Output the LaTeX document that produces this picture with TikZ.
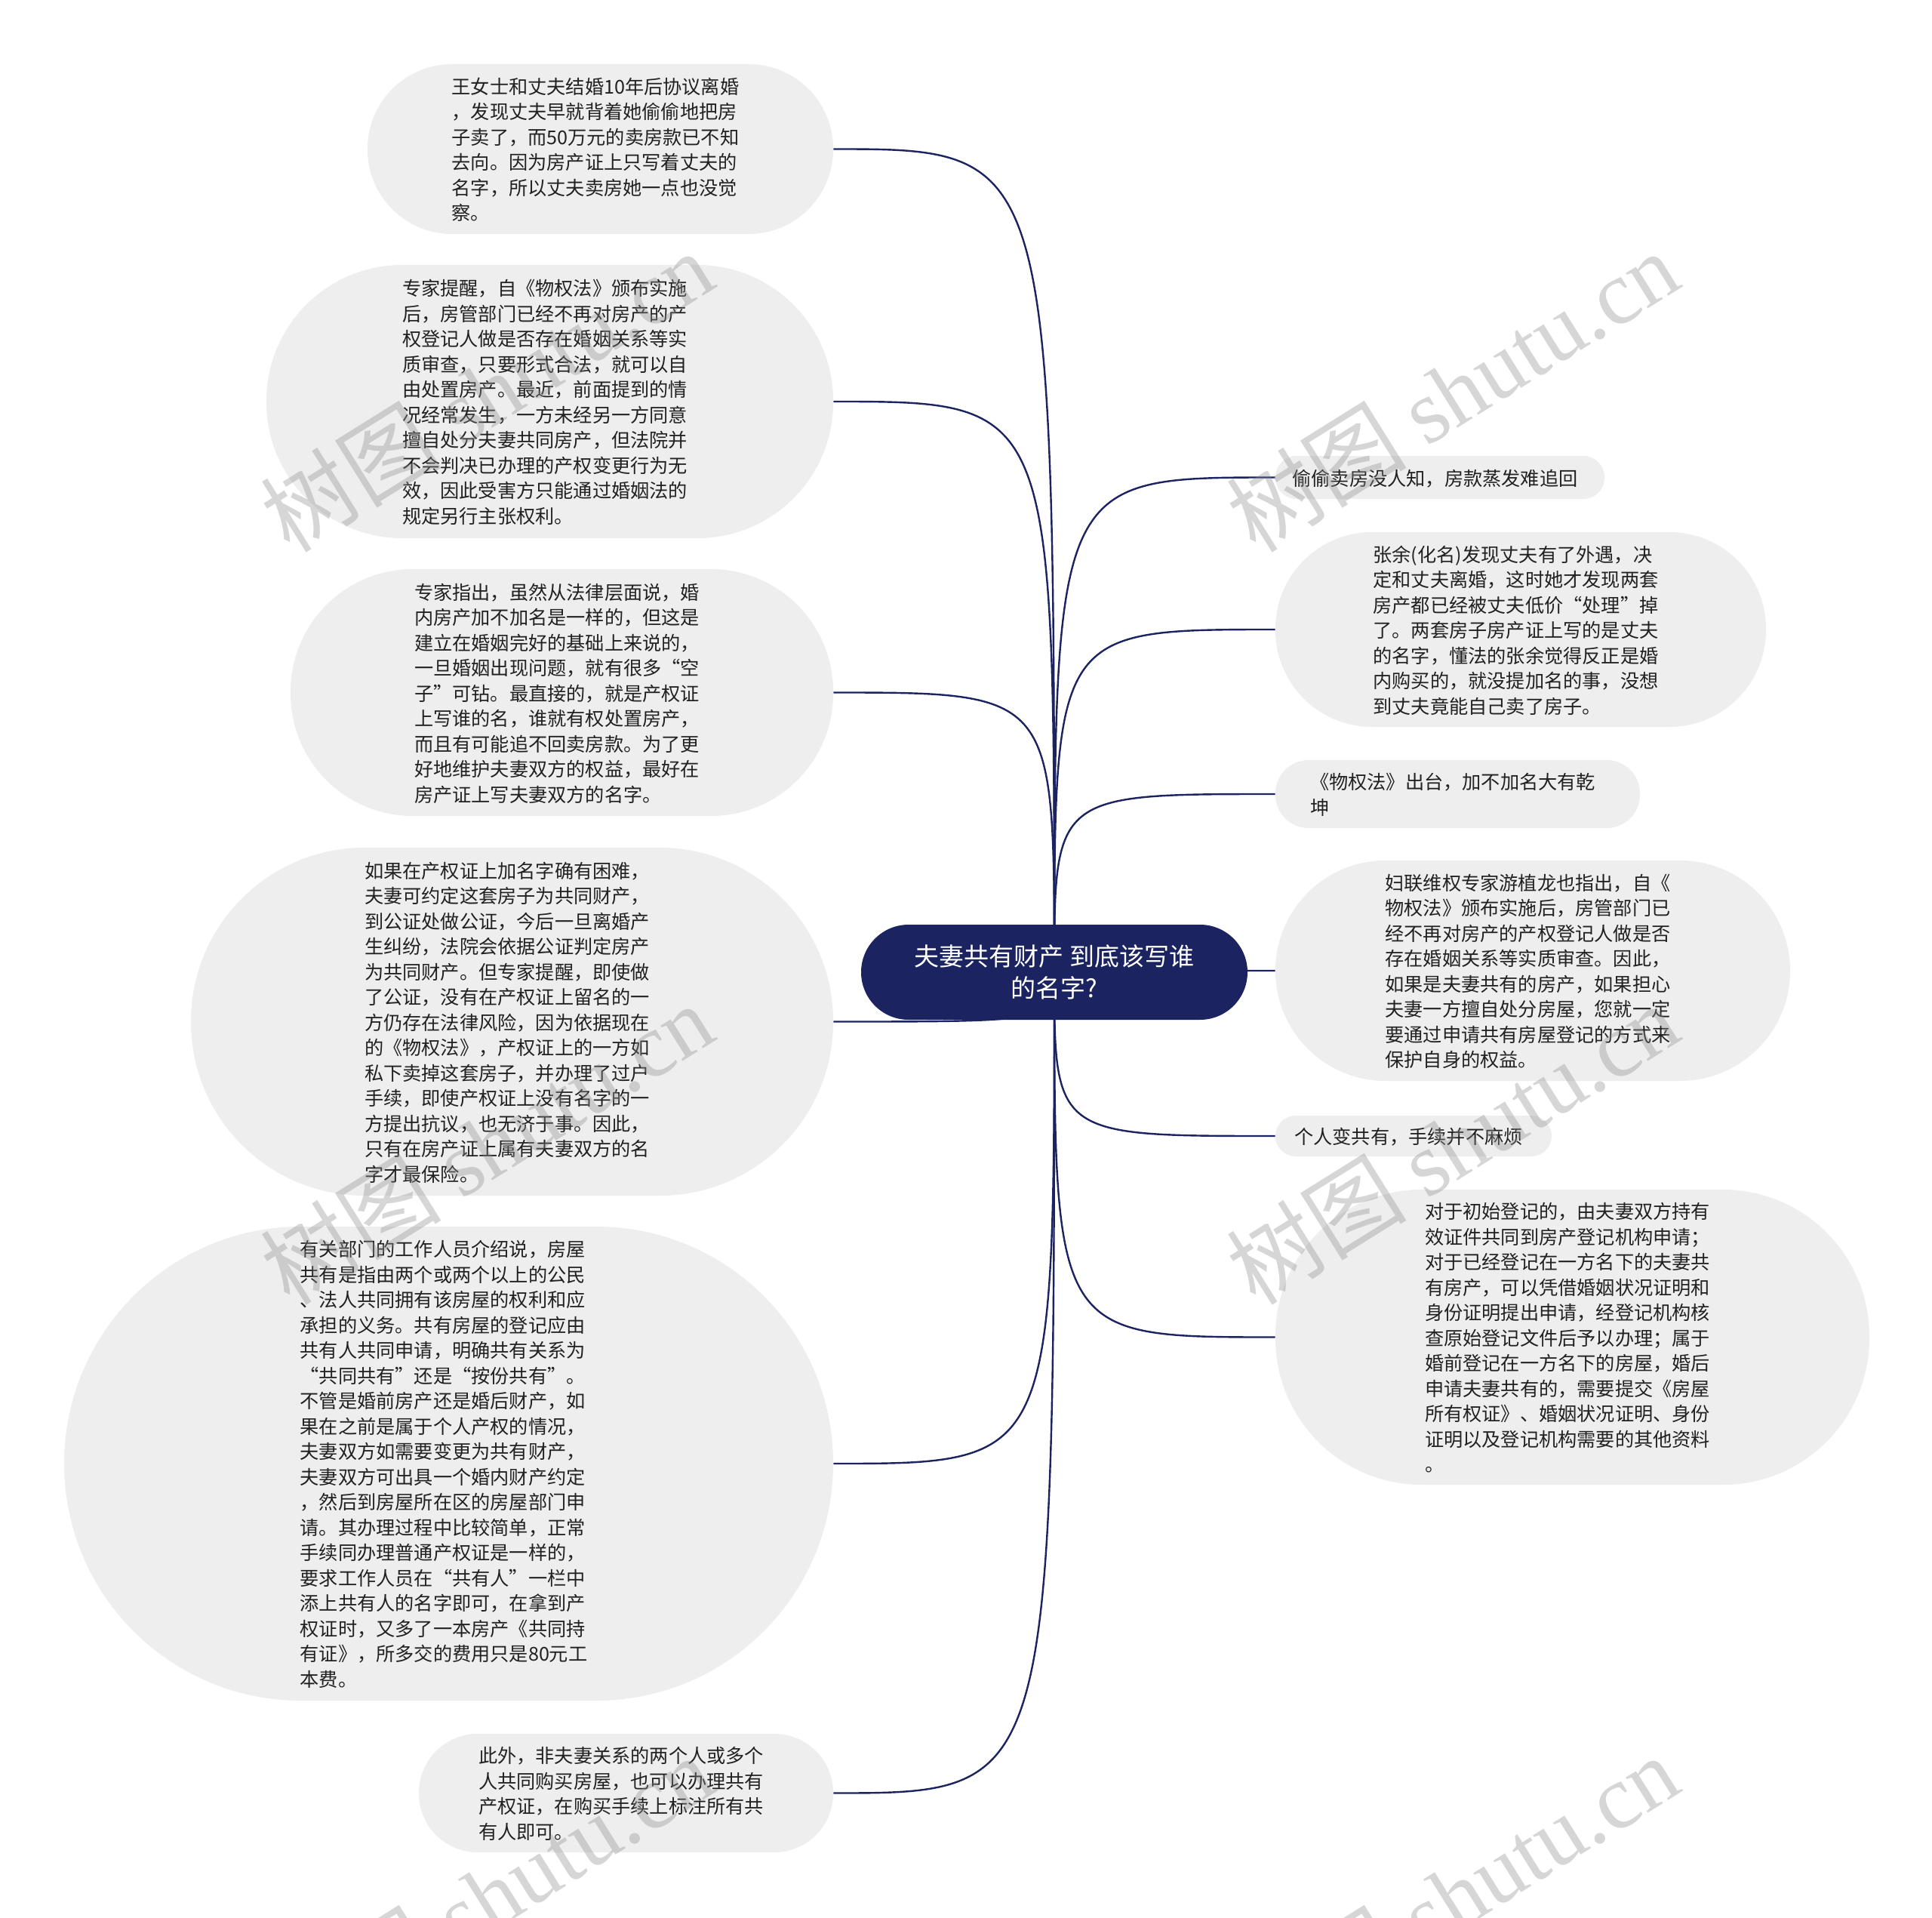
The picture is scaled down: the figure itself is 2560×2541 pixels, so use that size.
\documentclass[tikz,border=0pt]{standalone}
\usepackage{fontspec}
\setmainfont{Noto Sans CJK SC}
\newfontfamily\wmserif{Liberation Serif}
\usetikzlibrary{backgrounds}
\definecolor{navy}{RGB}{27,35,96}
\definecolor{bubblegray}{RGB}{238,238,238}
\definecolor{txt}{RGB}{33,33,33}
\definecolor{wm}{RGB}{140,140,140}
\newcommand{\bubtext}[1]{\raisebox{-2pt}[\height][\depth]{\begin{tabular}{@{}l@{}}#1\end{tabular}}\hspace*{6.5pt}}
\begin{document}
\begin{tikzpicture}[x=0.5pt,y=-0.5pt,
 bubble/.style={fill=bubblegray, inner sep=0pt, text=txt, font=\fontsize{12.6pt}{16.75pt}\selectfont},
 rootnode/.style={fill=navy, text=white, align=center, inner sep=0pt, minimum width=256pt, minimum height=63pt, rounded corners=31.5pt, font=\fontsize{16.5pt}{21pt}\selectfont},
 link/.style={draw=navy, line width=1.2pt},
 watermark/.style={text=wm, opacity=0.35, rotate=32, inner sep=0pt, font=\fontsize{60pt}{60pt}\selectfont}
]
\useasboundingbox (0,0) rectangle (2560,2541);

\node[rootnode] (root) at (1397,1288) {夫妻共有财产 到底该写谁\\的名字?};

\node[bubble, minimum width=308.5pt, minimum height=112.5pt, rounded corners=56pt] (L1) at (795.5,197.5) {\bubtext{王女士和丈夫结婚10年后协议离婚\\，发现丈夫早就背着她偷偷地把房\\子卖了，而50万元的卖房款已不知\\去向。因为房产证上只写着丈夫的\\名字，所以丈夫卖房她一点也没觉\\察。}};

\node[bubble, minimum width=375.5pt, minimum height=181pt, rounded corners=90pt] (L2) at (728.5,532) {\bubtext{专家提醒，自《物权法》颁布实施\\后，房管部门已经不再对房产的产\\权登记人做是否存在婚姻关系等实\\质审查，只要形式合法，就可以自\\由处置房产。最近，前面提到的情\\况经常发生，一方未经另一方同意\\擅自处分夫妻共同房产，但法院并\\不会判决已办理的产权变更行为无\\效，因此受害方只能通过婚姻法的\\规定另行主张权利。}};

\node[bubble, minimum width=359.5pt, minimum height=163.5pt, rounded corners=81pt] (L3) at (744.5,917.5) {\bubtext{专家指出，虽然从法律层面说，婚\\内房产加不加名是一样的，但这是\\建立在婚姻完好的基础上来说的，\\一旦婚姻出现问题，就有很多“空\\子”可钻。最直接的，就是产权证\\上写谁的名，谁就有权处置房产，\\而且有可能追不回卖房款。为了更\\好地维护夫妻双方的权益，最好在\\房产证上写夫妻双方的名字。}};

\node[bubble, minimum width=425.5pt, minimum height=230.5pt, rounded corners=115pt] (L4) at (678.5,1353.5) {\bubtext{如果在产权证上加名字确有困难，\\夫妻可约定这套房子为共同财产，\\到公证处做公证，今后一旦离婚产\\生纠纷，法院会依据公证判定房产\\为共同财产。但专家提醒，即使做\\了公证，没有在产权证上留名的一\\方仍存在法律风险，因为依据现在\\的《物权法》，产权证上的一方如\\私下卖掉这套房子，并办理了过户\\手续，即使产权证上没有名字的一\\方提出抗议，也无济于事。因此，\\只有在房产证上属有夫妻双方的名\\字才最保险。}};

\node[bubble, minimum width=509.5pt, minimum height=314pt, rounded corners=157pt] (L5) at (594.5,1939) {\bubtext{有关部门的工作人员介绍说，房屋\\共有是指由两个或两个以上的公民\\、法人共同拥有该房屋的权利和应\\承担的义务。共有房屋的登记应由\\共有人共同申请，明确共有关系为\\“共同共有”还是“按份共有”。\\不管是婚前房产还是婚后财产，如\\果在之前是属于个人产权的情况，\\夫妻双方如需要变更为共有财产，\\夫妻双方可出具一个婚内财产约定\\，然后到房屋所在区的房屋部门申\\请。其办理过程中比较简单，正常\\手续同办理普通产权证是一样的，\\要求工作人员在“共有人”一栏中\\添上共有人的名字即可，在拿到产\\权证时，又多了一本房产《共同持\\有证》，所多交的费用只是80元工\\本费。}};

\node[bubble, minimum width=274.5pt, minimum height=78.5pt, rounded corners=39pt] (L6) at (829.5,2375.5) {\bubtext{此外，非夫妻关系的两个人或多个\\人共同购买房屋，也可以办理共有\\产权证，在购买手续上标注所有共\\有人即可。}};

\node[bubble, minimum width=218pt, minimum height=28.5pt, rounded corners=14pt] (R1) at (1908,632.5) {\bubtext{偷偷卖房没人知，房款蒸发难追回}};

\node[bubble, minimum width=325pt, minimum height=129pt, rounded corners=64pt] (R2) at (2015,834) {\bubtext{张余(化名)发现丈夫有了外遇，决\\定和丈夫离婚，这时她才发现两套\\房产都已经被丈夫低价“处理”掉\\了。两套房子房产证上写的是丈夫\\的名字，懂法的张余觉得反正是婚\\内购买的，就没提加名的事，没想\\到丈夫竟能自己卖了房子。}};

\node[bubble, minimum width=241.5pt, minimum height=45pt, rounded corners=22pt] (R3) at (1931.5,1052) {\bubtext{《物权法》出台，加不加名大有乾\\坤}};

\node[bubble, minimum width=341pt, minimum height=146pt, rounded corners=73pt] (R4) at (2031,1286) {\bubtext{妇联维权专家游植龙也指出，自《\\物权法》颁布实施后，房管部门已\\经不再对房产的产权登记人做是否\\存在婚姻关系等实质审查。因此，\\如果是夫妻共有的房产，如果担心\\夫妻一方擅自处分房屋，您就一定\\要通过申请共有房屋登记的方式来\\保护自身的权益。}};

\node[bubble, minimum width=183pt, minimum height=27pt, rounded corners=13.5pt] (R5) at (1873,1505) {\bubtext{个人变共有，手续并不麻烦}};

\node[bubble, minimum width=393.5pt, minimum height=195.5pt, rounded corners=97pt] (R6) at (2083.5,1771.5) {\bubtext{对于初始登记的，由夫妻双方持有\\效证件共同到房产登记机构申请；\\对于已经登记在一方名下的夫妻共\\有房产，可以凭借婚姻状况证明和\\身份证明提出申请，经登记机构核\\查原始登记文件后予以办理；属于\\婚前登记在一方名下的房屋，婚后\\申请夫妻共有的，需要提交《房屋\\所有权证》、婚姻状况证明、身份\\证明以及登记机构需要的其他资料\\。}};

\begin{scope}[on background layer]
\fill[white] (0,0) rectangle (2560,2541);
\foreach \n/\a in {L1/east,L2/east,L3/east,L4/east,L5/east,L6/east,R1/west,R2/west,R3/west,R4/west,R5/west,R6/west}{
  \draw[link] (root.center) .. controls (root.center |- \n.\a) and (root.center |- \n.\a) .. (\n.\a);
}
\end{scope}

\node[watermark] (wm1) at (645,518) {树图 {\wmserif shutu.cn}};
\node[watermark] (wm2) at (1924,518) {树图 {\wmserif shutu.cn}};
\node[watermark] (wm3) at (645,1515) {树图 {\wmserif shutu.cn}};
\node[watermark] (wm4) at (1924,1515) {树图 {\wmserif shutu.cn}};
\node[watermark] (wm5) at (645,2511) {树图 {\wmserif shutu.cn}};
\node[watermark] (wm6) at (1924,2511) {树图 {\wmserif shutu.cn}};
\end{tikzpicture}
\end{document}
